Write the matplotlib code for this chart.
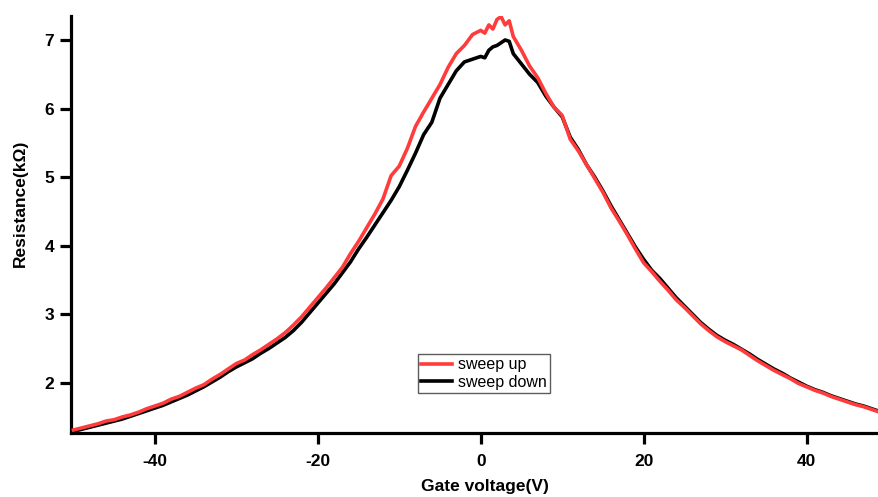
import matplotlib
matplotlib.use("Agg")
from matplotlib import pyplot as plt

# gate voltage (V) sampled every 1 V, plus a few extra points near the peak
gate_v = [-50, -49, -48, -47, -46, -45, -44, -43, -42, -41,
          -40, -39, -38, -37, -36, -35, -34, -33, -32, -31,
          -30, -29, -28, -27, -26, -25, -24, -23, -22, -21,
          -20, -19, -18, -17, -16, -15, -14, -13, -12, -11,
          -10, -9, -8, -7, -6, -5, -4, -3, -2, -1,
          0, 0.5, 1, 1.5, 2, 2.5, 3, 3.5, 4, 5, 6, 7, 8, 9,
          10, 11, 12, 13, 14, 15, 16, 17, 18, 19,
          20, 21, 22, 23, 24, 25, 26, 27, 28, 29,
          30, 31, 32, 33, 34, 35, 36, 37, 38, 39,
          40, 41, 42, 43, 44, 45, 46, 47, 48, 49]

# resistance (kOhm)
sweep_up = [1.31, 1.34, 1.37, 1.40, 1.44, 1.46, 1.50, 1.53, 1.57, 1.62,
            1.66, 1.70, 1.76, 1.80, 1.86, 1.92, 1.97, 2.05, 2.12, 2.20,
            2.28, 2.33, 2.41, 2.48, 2.56, 2.64, 2.73, 2.84, 2.96, 3.10,
            3.24, 3.38, 3.53, 3.68, 3.88, 4.06, 4.26, 4.46, 4.68, 5.02,
            5.16, 5.42, 5.74, 5.95, 6.15, 6.35, 6.60, 6.80, 6.92, 7.08,
            7.14, 7.10, 7.22, 7.16, 7.30, 7.34, 7.22, 7.28, 7.05, 6.85, 6.62, 6.45, 6.22, 6.02,
            5.90, 5.55, 5.38, 5.18, 4.98, 4.78, 4.55, 4.36, 4.16, 3.95,
            3.75, 3.62, 3.48, 3.35, 3.21, 3.10, 2.98, 2.86, 2.76, 2.67,
            2.60, 2.54, 2.48, 2.40, 2.32, 2.25, 2.18, 2.12, 2.06, 1.99,
            1.94, 1.89, 1.85, 1.80, 1.76, 1.72, 1.68, 1.65, 1.61, 1.57]

sweep_down = [1.29, 1.32, 1.35, 1.38, 1.41, 1.44, 1.47, 1.51, 1.55, 1.59,
              1.63, 1.67, 1.72, 1.77, 1.82, 1.88, 1.94, 2.01, 2.08, 2.16,
              2.23, 2.29, 2.35, 2.43, 2.50, 2.58, 2.66, 2.76, 2.88, 3.02,
              3.16, 3.30, 3.44, 3.60, 3.76, 3.95, 4.12, 4.30, 4.48, 4.66,
              4.86, 5.10, 5.35, 5.62, 5.80, 6.15, 6.35, 6.55, 6.68, 6.72,
              6.76, 6.74, 6.85, 6.90, 6.92, 6.96, 7.00, 6.98, 6.80, 6.65, 6.50, 6.38, 6.18, 6.02,
              5.88, 5.58, 5.40, 5.18, 5.00, 4.80, 4.58, 4.38, 4.18, 3.98,
              3.80, 3.64, 3.52, 3.38, 3.24, 3.12, 3.00, 2.88, 2.78, 2.69,
              2.62, 2.56, 2.49, 2.42, 2.34, 2.27, 2.20, 2.14, 2.07, 2.01,
              1.95, 1.90, 1.86, 1.81, 1.77, 1.73, 1.69, 1.66, 1.62, 1.58]

plt.rcParams['font.family'] = ['Liberation Sans', 'DejaVu Sans']
plt.rcParams['axes.unicode_minus'] = False

fig = plt.figure(figsize=(8.79, 4.97), dpi=100)
ax = fig.add_axes([71/879, 1 - 433/497, 1 - 71/879, (433 - 16)/497])

ax.plot(gate_v, sweep_down, color='black', lw=2.6, label='sweep down', zorder=2)
ax.plot(gate_v, sweep_up, color='#ff3b3b', lw=2.6, label='sweep up', zorder=3)

ax.set_xlim(-50.3, 48.9)
ax.set_ylim(1.266, 7.35)
ax.set_xticks([-40, -20, 0, 20, 40])
ax.set_yticks([2, 3, 4, 5, 6, 7])

for s in ['top', 'right']:
    ax.spines[s].set_visible(False)
for s in ['left', 'bottom']:
    ax.spines[s].set_linewidth(2.3)

ax.tick_params(axis='both', direction='out', length=8, width=2.3, labelsize=12.5)
ax.tick_params(axis='x', pad=7)
ax.tick_params(axis='y', pad=4)
for lab in ax.get_xticklabels() + ax.get_yticklabels():
    lab.set_fontweight('bold')

ax.set_xlabel('Gate voltage(V)', fontsize=12.5, fontweight='bold')
ax.set_ylabel('Resistance(kΩ)', fontsize=12.5, fontweight='bold')
ax.xaxis.set_label_coords((485 - 71)/808, -(479 - 433)/417)
ax.yaxis.set_label_coords(-(71 - 28)/808, (433 - 203)/417)

h, l = ax.get_legend_handles_labels()
leg = ax.legend([h[1], h[0]], [l[1], l[0]], loc='lower left',
                bbox_to_anchor=((418 - 71)/808, (433 - 393)/417),
                borderaxespad=0, fontsize=11.5, frameon=True, fancybox=False,
                edgecolor='#333333', labelspacing=0.15, handlelength=1.9,
                handletextpad=0.4, borderpad=0.2)
leg.get_frame().set_linewidth(1.0)

fig.savefig('out.png', dpi=100)
